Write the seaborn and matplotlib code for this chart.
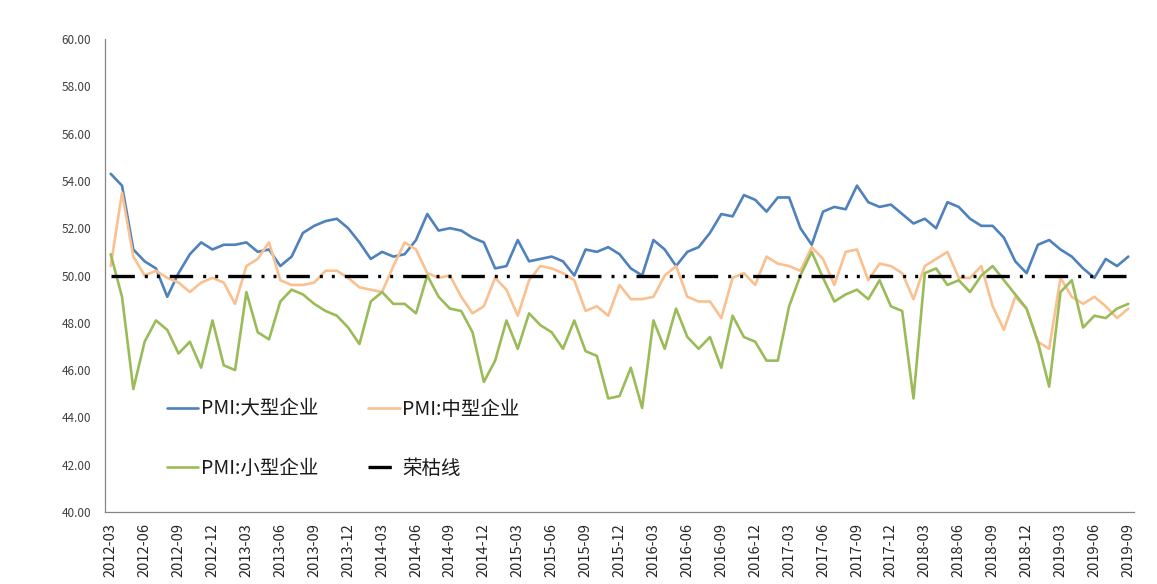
import numpy as np
import pandas as pd
import matplotlib
matplotlib.use("Agg")
import matplotlib.pyplot as plt
from matplotlib.ticker import FormatStrFormatter, FixedLocator
import seaborn as sns

# monthly PMI by enterprise size, 2012-03 .. 2019-09
months = pd.period_range("2012-03", "2019-09", freq="M").strftime("%Y-%m").tolist()

pmi_large = [54.3, 53.8, 51.1, 50.6, 50.3, 49.1, 50.1, 50.9, 51.4, 51.1,
             51.3, 51.3, 51.4, 51.0, 51.1, 50.4, 50.8, 51.8, 52.1, 52.3,
             52.4, 52.0, 51.4, 50.7, 51.0, 50.8, 50.9, 51.5, 52.6, 51.9,
             52.0, 51.9, 51.6, 51.4, 50.3, 50.4, 51.5, 50.6, 50.7, 50.8,
             50.6, 50.0, 51.1, 51.0, 51.2, 50.9, 50.3, 50.0, 51.5, 51.1,
             50.4, 51.0, 51.2, 51.8, 52.6, 52.5, 53.4, 53.2, 52.7, 53.3,
             53.3, 52.0, 51.3, 52.7, 52.9, 52.8, 53.8, 53.1, 52.9, 53.0,
             52.6, 52.2, 52.4, 52.0, 53.1, 52.9, 52.4, 52.1, 52.1, 51.6,
             50.6, 50.1, 51.3, 51.5, 51.1, 50.8, 50.3, 49.9, 50.7, 50.4,
             50.8]

pmi_medium = [50.4, 53.5, 50.8, 50.0, 50.2, 49.9, 49.7, 49.3, 49.7, 49.9,
              49.7, 48.8, 50.4, 50.7, 51.4, 49.8, 49.6, 49.6, 49.7, 50.2,
              50.2, 49.9, 49.5, 49.4, 49.3, 50.4, 51.4, 51.1, 50.1, 49.9,
              50.0, 49.1, 48.4, 48.7, 49.9, 49.4, 48.3, 49.8, 50.4, 50.3,
              50.1, 49.8, 48.5, 48.7, 48.3, 49.6, 49.0, 49.0, 49.1, 50.0,
              50.4, 49.1, 48.9, 48.9, 48.2, 49.9, 50.1, 49.6, 50.8, 50.5,
              50.4, 50.2, 51.2, 50.7, 49.6, 51.0, 51.1, 49.8, 50.5, 50.4,
              50.1, 49.0, 50.4, 50.7, 51.0, 49.9, 49.9, 50.4, 48.7, 47.7,
              49.1, 48.6, 47.2, 46.9, 49.9, 49.1, 48.8, 49.1, 48.7, 48.2,
              48.6]

pmi_small = [50.9, 49.1, 45.2, 47.2, 48.1, 47.7, 46.7, 47.2, 46.1, 48.1,
             46.2, 46.0, 49.3, 47.6, 47.3, 48.9, 49.4, 49.2, 48.8, 48.5,
             48.3, 47.8, 47.1, 48.9, 49.3, 48.8, 48.8, 48.4, 50.0, 49.1,
             48.6, 48.5, 47.6, 45.5, 46.4, 48.1, 46.9, 48.4, 47.9, 47.6,
             46.9, 48.1, 46.8, 46.6, 44.8, 44.9, 46.1, 44.4, 48.1, 46.9,
             48.6, 47.4, 46.9, 47.4, 46.1, 48.3, 47.4, 47.2, 46.4, 46.4,
             48.7, 50.0, 51.0, 49.9, 48.9, 49.2, 49.4, 49.0, 49.8, 48.7,
             48.5, 44.8, 50.1, 50.3, 49.6, 49.8, 49.3, 50.0, 50.4, 49.8,
             49.2, 48.6, 47.2, 45.3, 49.3, 49.8, 47.8, 48.3, 48.2, 48.6,
             48.8]

boom_bust = [50.0] * len(months)

series_names = ["PMI:大型企业", "PMI:中型企业", "PMI:小型企业"]
series_colors = ["#4F81BD", "#FAC090", "#9BBB59"]

df = pd.DataFrame({
    "idx": list(range(len(months))) * 3,
    "value": pmi_large + pmi_medium + pmi_small,
    "series": sum([[n] * len(months) for n in series_names], []),
})
ref = pd.DataFrame({"idx": range(len(months)), "value": boom_bust})

sns.set_theme(style="white")
plt.rcParams["font.family"] = ["Noto Sans CJK SC", "DejaVu Sans"]
plt.rcParams["axes.unicode_minus"] = False

fig = plt.figure(figsize=(11.57, 5.84), dpi=100)
ax = fig.add_axes([0.0908, 0.1233, 0.8893, 0.8099])

sns.lineplot(data=df, x="idx", y="value", hue="series", hue_order=series_names,
             palette=series_colors, linewidth=1.9, errorbar=None, legend=False, ax=ax)
sns.lineplot(data=ref, x="idx", y="value", color="black", linewidth=2.4,
             errorbar=None, ax=ax)
ax.lines[-1].set_linestyle((0, (7, 3, 0.9, 2.7, 0.9, 3)))

ax.set_xlim(-0.5, len(months) - 0.5)
ax.set_ylim(40, 60)
ax.set_yticks(np.arange(40, 61, 2))
ax.yaxis.set_major_formatter(FormatStrFormatter("%.2f"))

label_pos = list(range(0, len(months), 3))
ax.set_xticks(label_pos)
ax.set_xticklabels([months[i] for i in label_pos], rotation=90, fontsize=10.5, color="#262626")
ax.xaxis.set_minor_locator(FixedLocator([p - 0.5 for p in label_pos]))
ax.tick_params(axis="x", which="major", length=0, pad=8)
ax.tick_params(axis="x", which="minor", length=4, width=0.8, color="#868686", direction="out")
ax.tick_params(axis="y", length=4, width=0.8, color="#868686", direction="out",
               labelsize=8.5, labelcolor="#404040", pad=6)
ax.set_xlabel("")
ax.set_ylabel("")
ax.grid(False)

sns.despine(ax=ax)
for s in ["left", "bottom"]:
    ax.spines[s].set_color("#868686")
    ax.spines[s].set_linewidth(0.9)

lines = ax.lines
handles = [lines[0], lines[2], lines[1], lines[3]]
labels = [series_names[0], series_names[2], series_names[1], "荣枯线"]
ax.legend(handles, labels, ncol=2, loc="center left", bbox_to_anchor=(0.0603, 0.155),
          bbox_transform=ax.transAxes, frameon=False, fontsize=14, borderpad=0,
          borderaxespad=0, handlelength=1.6, handletextpad=0.12, columnspacing=2.6,
          labelspacing=1.95, labelcolor="#1a1a1a")

fig.savefig("out.png", dpi=100)
